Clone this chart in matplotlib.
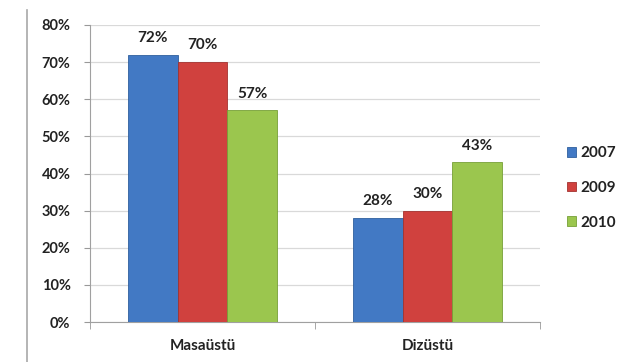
import numpy as np
import matplotlib
matplotlib.use("Agg")
import matplotlib.pyplot as plt
from matplotlib.lines import Line2D

# Chart data
categories = ['Masaüstü', 'Dizüstü']
years = ['2007', '2009', '2010']
values_2007 = [72, 28]
values_2009 = [70, 30]
values_2010 = [57, 43]

colors = ['#4279C4', '#D0413E', '#9BC64E']
edges = ['#2F5F9E', '#A33230', '#77A037']

plt.rcParams['font.family'] = ['Lato', 'DejaVu Sans']

fig = plt.figure(figsize=(6.35, 3.62), dpi=100)
ax = fig.add_axes([90 / 635, 40 / 362, 450 / 635, 297 / 362])

x = np.arange(len(categories))
width = 0.22
series = [values_2007, values_2009, values_2010]
for i, (vals, yr) in enumerate(zip(series, years)):
    pos = x + (i - 1) * width
    bars = ax.bar(pos, vals, width, color=colors[i], edgecolor=edges[i],
                  linewidth=0.6, label=yr, zorder=3)
    for b, v in zip(bars, vals):
        ax.annotate(f'{v}%', (b.get_x() + b.get_width() / 2, v),
                    xytext=(0, 7), textcoords='offset points',
                    ha='center', va='bottom', fontsize=11,
                    fontweight='bold', color='#222222')

ax.set_xlim(-0.5, 1.5)
ax.set_ylim(0, 80)
ax.set_yticks(range(0, 81, 10))
ax.set_yticklabels([f'{t}%' for t in range(0, 81, 10)])
ax.set_xticks(x)
ax.set_xticklabels(categories)
ax.tick_params(axis='x', length=0, pad=12, labelsize=11)
ax.tick_params(axis='y', length=4, color='#999999', pad=10, labelsize=10.5)
for lab in ax.get_xticklabels() + ax.get_yticklabels():
    lab.set_fontweight('bold')
    lab.set_color('#222222')

# minor ticks at category boundaries on x-axis
ax.set_xticks([-0.5, 0.5, 1.5], minor=True)
ax.tick_params(axis='x', which='minor', length=5, color='#999999')

ax.grid(axis='y', color='#D9D9D9', linewidth=0.9, zorder=0)
for s in ['top', 'right']:
    ax.spines[s].set_visible(False)
ax.spines['left'].set_color('#A0A0A0')
ax.spines['bottom'].set_color('#A0A0A0')

handles = [plt.Rectangle((0, 0), 1, 1, facecolor=c, edgecolor=e, linewidth=0.6)
           for c, e in zip(colors, edges)]
leg = fig.legend(handles, years, loc='center left', bbox_to_anchor=(553 / 635, 1 - 188 / 362),
                 frameon=False, fontsize=11, handlelength=0.6, handleheight=0.6,
                 handletextpad=0.3, labelspacing=1.35)
for t in leg.get_texts():
    t.set_fontweight('bold')
    t.set_color('#222222')

# left border line of the frame
fig.add_artist(Line2D([27 / 635, 27 / 635], [0, 352 / 362], color='#A8A8A8', linewidth=1.2))

fig.savefig('out.png', dpi=100)
